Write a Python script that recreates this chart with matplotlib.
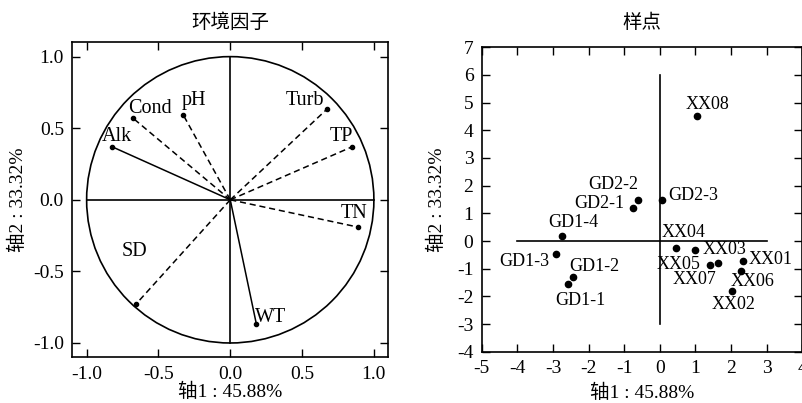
import matplotlib
matplotlib.use("Agg")
import matplotlib.pyplot as plt
from matplotlib.patches import Circle
import numpy as np

plt.rcParams['font.family'] = ['Liberation Serif', 'Noto Sans CJK SC']
plt.rcParams['axes.unicode_minus'] = False

# ---- data: environmental factor loadings ----
env_names = ["Alk", "Cond", "pH", "Turb", "TP", "TN", "WT", "SD"]
env_x = [-0.824, -0.678, -0.328, 0.674, 0.850, 0.887, 0.181, -0.655]
env_y = [0.371, 0.571, 0.594, 0.634, 0.371, -0.190, -0.864, -0.727]
env_solid = [True, False, False, False, False, False, True, False]

# ---- data: site scores ----
site_names = ["XX08", "GD2-2", "GD2-1", "GD2-3", "GD1-4", "GD1-3", "GD1-2", "GD1-1",
              "XX04", "XX03", "XX05", "XX07", "XX01", "XX06", "XX02"]
site_x = [1.04, -0.61, -0.75, 0.06, -2.75, -2.92, -2.44, -2.58,
          0.45, 0.99, 1.42, 1.63, 2.32, 2.28, 2.02]
site_y = [4.51, 1.47, 1.20, 1.47, 0.17, -0.47, -1.29, -1.57,
          -0.26, -0.31, -0.85, -0.80, -0.73, -1.07, -1.82]

xlabel = "轴1 : 45.88%"
ylabel = "轴2 : 33.32%"
titles = ["环境因子", "样点"]

# label offsets (points)
env_off = [(3.6, 7.2), (12.5, 7.2), (7.4, 10.6), (-15.6, 6), (-7.9, 7.2),
           (-2.9, 10), (10, 4.1), (-1.4, 37.9)]
site_off = [(7.7, 8.6), (-18, 11.3), (-24, 2.9), (22.5, 3.2), (8.4, 9.6),
            (-22.5, -5.5), (15.6, 7.7), (8.9, -11.3), (5.8, 11), (21.4, 0.2),
            (-23.3, 0.2), (-17, -11.7), (19.9, 1.2), (8.4, -7.7), (1.2, -9.4)]

fig = plt.figure(figsize=(8.03, 4.03), dpi=100)
ax1 = fig.add_axes([0.0900, 0.1134, 0.3935, 0.7816])
ax2 = fig.add_axes([0.5999, 0.1273, 0.3993, 0.7553])

lw = 1.2
for ax in (ax1, ax2):
    for s in ax.spines.values():
        s.set_linewidth(1.2)
    ax.tick_params(direction='in', top=True, right=True, length=6, width=1.0,
                   labelsize=14, pad=6)

# left panel
ax1.add_patch(Circle((0, 0), 1.0, fill=False, lw=lw, color='black'))
ax1.plot([-1, 1], [0, 0], color='black', lw=lw)
ax1.plot([0, 0], [-1, 1], color='black', lw=lw)
for n, x, y, solid, off in zip(env_names, env_x, env_y, env_solid, env_off):
    ax1.plot([0, x], [0, y], color='black', lw=1.1,
             linestyle='-' if solid else (0, (4, 2.5)))
    ax1.plot(x, y, 'o', color='black', ms=3)
    ax1.annotate(n, (x, y), xytext=off, textcoords='offset points',
                 ha='center', va='center', fontsize=14.5)
ax1.set_xlim(-1.1, 1.1)
ax1.set_ylim(-1.1, 1.1)
ax1.set_xticks([-1.0, -0.5, 0.0, 0.5, 1.0])
ax1.set_yticks([-1.0, -0.5, 0.0, 0.5, 1.0])
ax1.set_xticklabels(["-1.0", "-0.5", "0.0", "0.5", "1.0"])
ax1.set_yticklabels(["-1.0", "-0.5", "0.0", "0.5", "1.0"])
ax1.set_xlabel(xlabel, fontsize=14, labelpad=0)
ax1.set_ylabel(ylabel, fontsize=14, labelpad=4)
ax1.set_title(titles[0], fontsize=14, pad=10)

# right panel
ax2.plot([-4, 3], [0, 0], color='black', lw=lw)
ax2.plot([0, 0], [-3, 6], color='black', lw=lw)
ax2.plot(site_x, site_y, 'o', color='black', ms=4.5, linestyle='none')
for n, x, y, off in zip(site_names, site_x, site_y, site_off):
    ax2.annotate(n, (x, y), xytext=off, textcoords='offset points',
                 ha='center', va='center', fontsize=13)
ax2.set_xlim(-5, 4)
ax2.set_ylim(-4, 7)
ax2.set_xticks(np.arange(-5, 5))
ax2.set_yticks(np.arange(-4, 8))
ax2.set_xlabel(xlabel, fontsize=14, labelpad=4.5)
ax2.set_ylabel(ylabel, fontsize=14, labelpad=8)
ax2.set_title(titles[1], fontsize=14, pad=14)

fig.savefig("out.png", dpi=100)
